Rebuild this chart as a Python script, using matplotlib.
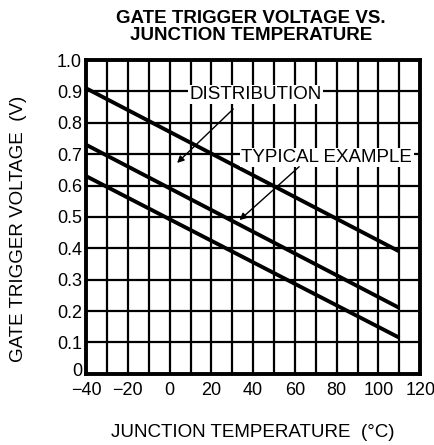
import matplotlib
matplotlib.use("Agg")
import matplotlib.pyplot as plt
import matplotlib.transforms as mtransforms
import numpy as np

plt.rcParams["font.family"] = ["Liberation Sans", "DejaVu Sans"]

# data
temps = [-40, 110]
upper_limit = [0.91, 0.39]
typical = [0.73, 0.21]
lower_limit = [0.63, 0.115]

x_ticks = [-40, -20, 0, 20, 40, 60, 80, 100, 120]
x_tick_labels = ["\u221240", "\u221220", "0", "20", "40", "60", "80", "100", "120"]
y_ticks = [0, 0.1, 0.2, 0.3, 0.4, 0.5, 0.6, 0.7, 0.8, 0.9, 1.0]
y_tick_labels = ["0", "0.1", "0.2", "0.3", "0.4", "0.5", "0.6", "0.7", "0.8", "0.9", "1.0"]

fig = plt.figure(figsize=(4.35, 4.45), dpi=100)
ax = fig.add_axes([0.198, 0.160, 0.768, 0.705])

ax.set_xlim(-40, 120)
ax.set_ylim(0, 1.0)

# grid every 10 degC and 0.1 V
for xv in np.arange(-30, 120, 10):
    ax.axvline(xv, color="black", lw=1.6, zorder=1)
for yv in np.arange(0.1, 1.0, 0.1):
    ax.axhline(yv, color="black", lw=1.6, zorder=1)

for s in ax.spines.values():
    s.set_linewidth(2.8)

ax.set_xticks(x_ticks, x_tick_labels, fontsize=13)
ax.set_yticks(y_ticks, y_tick_labels, fontsize=13)
ax.tick_params(axis="x", length=0, pad=6)
ax.tick_params(axis="y", length=0, pad=3)

# lift the "0" on the y axis a little so it clears the "-40" below it
zero_lbl = ax.get_yticklabels()[0]
zero_lbl.set_transform(zero_lbl.get_transform()
                       + mtransforms.ScaledTranslation(0, 3 / 72, fig.dpi_scale_trans))

for series in (upper_limit, typical, lower_limit):
    ax.plot(temps, series, color="black", lw=2.8, solid_capstyle="butt", zorder=3)

box = dict(facecolor="white", edgecolor="none", pad=1.0)
ax.text(41.3, 0.89, "DISTRIBUTION", fontsize=13.5, ha="center", va="center", bbox=box, zorder=4)
ax.text(75.3, 0.69, "TYPICAL EXAMPLE", fontsize=13.5, ha="center", va="center", bbox=box, zorder=4)

arrow = dict(arrowstyle="-|>", color="black", lw=1.0, mutation_scale=10)
ax.annotate("", xy=(2.6, 0.666), xytext=(31.4, 0.85), arrowprops=arrow, zorder=5)
ax.annotate("", xy=(32.5, 0.484), xytext=(63, 0.666), arrowprops=arrow, zorder=5)

fig.text(0.577, 0.939, "GATE TRIGGER VOLTAGE VS.\nJUNCTION TEMPERATURE",
         ha="center", va="center", fontsize=13.5, fontweight="bold", linespacing=1.05)
fig.text(0.58, 0.029, "JUNCTION TEMPERATURE  (\u00b0C)", ha="center", va="center", fontsize=13.5)
fig.text(0.042, 0.485, "GATE TRIGGER VOLTAGE  (V)", ha="center", va="center",
         rotation=90, fontsize=13.5)

fig.savefig("out.png", dpi=100)
